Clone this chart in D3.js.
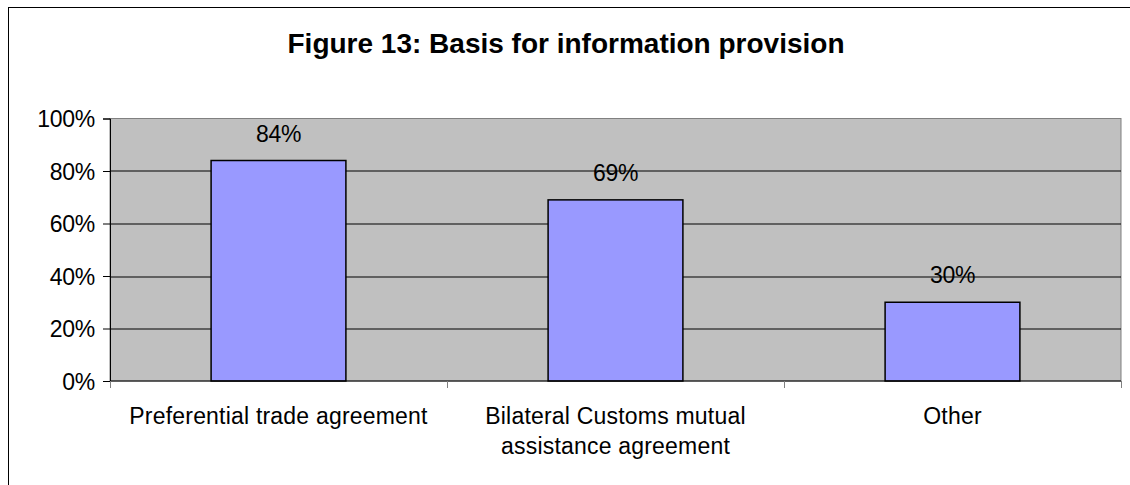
<!DOCTYPE html>
<html>
<head>
<meta charset="utf-8">
<script src="https://cdn.jsdelivr.net/npm/d3@7"></script>
<style>
  body { margin: 0; background: #fff; }
  svg { display: block; font-family: Arial, "Liberation Sans", sans-serif; }
</style>
</head>
<body>
<div id="container"></div>
<script>
/* DATA */
const categories = ["Preferential trade agreement", "Bilateral Customs mutual|assistance agreement", "Other"]
const values = [0.84, 0.69, 0.30]
const yTicks = [0, 0.2, 0.4, 0.6, 0.8, 1.0]
const title = "Figure 13: Basis for information provision"

/* CONSTANTS */
const W = 1130, H = 485
const margin = {top: 118.5, right: 9, bottom: 104, left: 110}
const width = W - margin.left - margin.right
const height = H - margin.top - margin.bottom
const fontSize = "23px"

const svg = d3.select("#container")
  .append("svg")
    .attr("width", W)
    .attr("height", H)

// outer chart border
svg.append("rect")
  .attr("x", 8.5).attr("y", 7.5)
  .attr("width", W).attr("height", H)
  .attr("fill", "none")
  .attr("stroke", "#000")
  .attr("stroke-width", 1)

svg.append("text")
  .attr("x", 566)
  .attr("y", 53)
  .attr("text-anchor", "middle")
  .style("font-weight", "bold")
  .style("font-size", "28px")
  .text(title)

const g = svg.append("g")
  .attr("transform", "translate(" + margin.left + "," + margin.top + ")")

// SCALES
const xScale = d3.scaleBand()
  .domain(categories)
  .range([0, width])
  .paddingInner(0.6)
  .paddingOuter(0.3)

const xGroup = d3.scaleBand()
  .domain(categories)
  .range([0, width])

const yScale = d3.scaleLinear()
  .domain([0, 1])
  .range([height, 0])

// plot background
g.append("rect")
  .attr("width", width)
  .attr("height", height)
  .attr("fill", "#c0c0c0")
  .attr("stroke", "#808080")
  .attr("stroke-width", 1)

// gridlines
g.selectAll(".grid")
  .data(yTicks.filter(d => d > 0 && d < 1))
  .join("line")
    .attr("x1", 0).attr("x2", width)
    .attr("y1", d => Math.round(yScale(d)) + 0.5)
    .attr("y2", d => Math.round(yScale(d)) + 0.5)
    .attr("stroke", "#000")

// bars
g.selectAll(".bar")
  .data(values)
  .join("rect")
    .attr("x", (d, i) => xScale(categories[i]))
    .attr("y", d => yScale(d))
    .attr("width", xScale.bandwidth())
    .attr("height", d => height - yScale(d))
    .attr("fill", "#9999ff")
    .attr("stroke", "#000")
    .attr("stroke-width", 1.5)

// value labels
g.selectAll(".val")
  .data(values)
  .join("text")
    .attr("x", (d, i) => xScale(categories[i]) + xScale.bandwidth() / 2)
    .attr("y", d => yScale(d) - 19)
    .attr("text-anchor", "middle")
    .style("font-size", fontSize)
    .style("letter-spacing", "-0.3px")
    .text(d => Math.round(d * 100) + "%")

// y axis
const yAxis = g.append("g")
  .call(d3.axisLeft(yScale).tickValues(yTicks).tickFormat(d3.format(".0%")).tickSize(7).tickPadding(8))
yAxis.select(".domain").attr("stroke", "#000")
yAxis.selectAll("text")
  .style("font-size", fontSize)
  .style("font-family", "Arial, 'Liberation Sans', sans-serif")
  .style("letter-spacing", "-0.3px")
  .attr("fill", "#000")
  .attr("dy", "0.35em")

// x axis (ticks between categories)
const xAxis = g.append("g")
  .attr("transform", "translate(0," + height + ")")
xAxis.append("line")
  .attr("x1", 0).attr("x2", width)
  .attr("stroke", "#000")
xAxis.selectAll(".xt")
  .data(d3.range(categories.length + 1))
  .join("line")
    .attr("x1", i => Math.round(i * xGroup.step()) + 0.5)
    .attr("x2", i => Math.round(i * xGroup.step()) + 0.5)
    .attr("y1", 0).attr("y2", 7)
    .attr("stroke", "#808080")

xAxis.selectAll(".xl")
  .data(categories)
  .join("text")
    .attr("x", d => xGroup(d) + xGroup.bandwidth() / 2)
    .attr("y", 43)
    .attr("text-anchor", "middle")
    .style("font-size", fontSize)
    .style("letter-spacing", "0.2px")
    .each(function(d) {
      const lines = d.split("|")
      d3.select(this).selectAll("tspan")
        .data(lines)
        .join("tspan")
          .attr("x", xGroup(d) + xGroup.bandwidth() / 2)
          .attr("dy", (l, i) => i === 0 ? 0 : 30)
          .text(l => l)
    })
</script>
</body>
</html>
